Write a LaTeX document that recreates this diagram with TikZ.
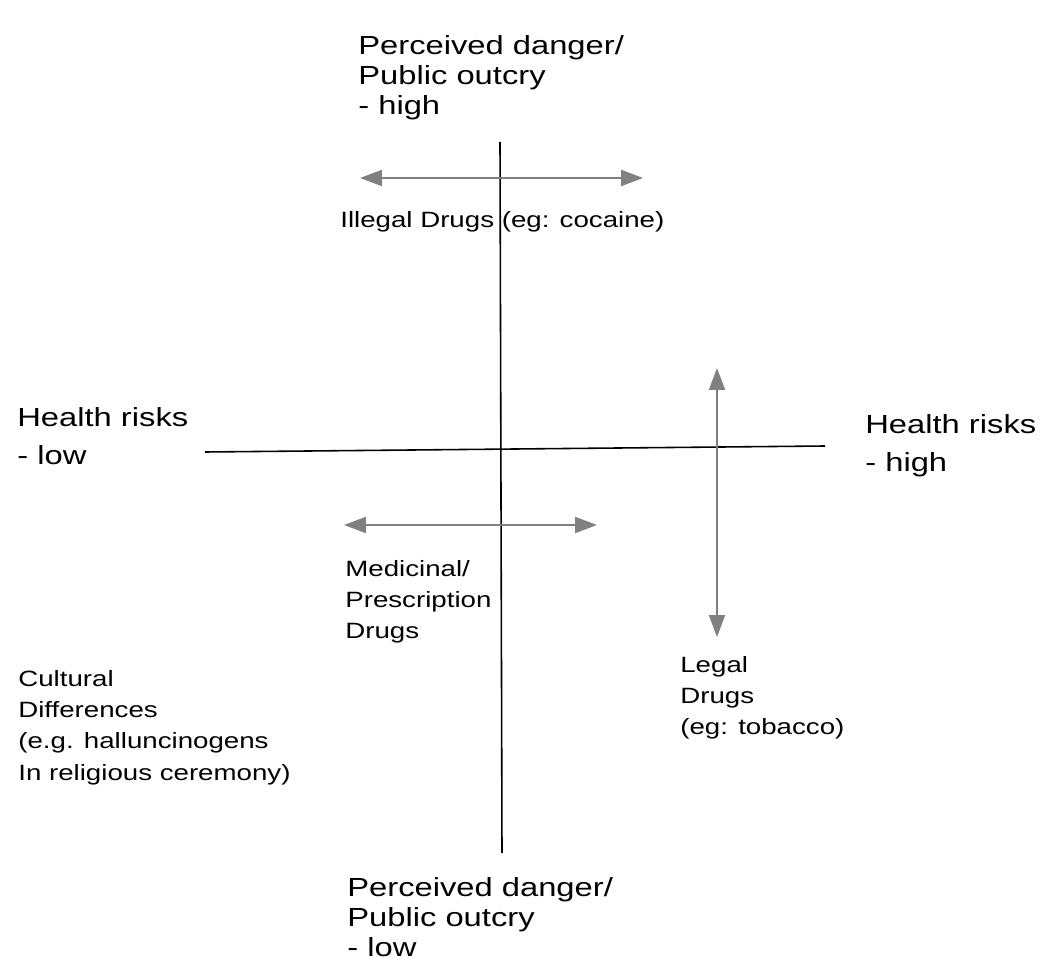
\documentclass[tikz,border=0pt]{standalone}
\usepackage{fontspec}
\setmainfont{Liberation Sans}[FakeStretch=1.25]
\usetikzlibrary{arrows.meta}
\definecolor{arrowgray}{RGB}{128,128,128}
\tikzset{
  axisLine/.style={draw=black, line width=0.9pt},
  rangeArrow/.style={draw=arrowgray, line width=1.2pt,
    {Triangle[length=0.44cm,width=0.32cm,fill=arrowgray]}-{Triangle[length=0.44cm,width=0.32cm,fill=arrowgray]}},
  axisLabel/.style={anchor=north west, inner sep=0pt, align=left,
    font=\fontsize{14.9}{17}\selectfont},
  sideLabel/.style={anchor=north west, inner sep=0pt, align=left,
    font=\fontsize{14.9}{21.8}\selectfont},
  drugLabel/.style={anchor=north west, inner sep=0pt, align=left,
    font=\fontsize{12.6}{17.8}\selectfont}
}
\begin{document}
\begin{tikzpicture}[x=0.02cm,y=-0.02cm]
    \useasboundingbox (0,0) rectangle (1042,976);

    % axes
    \coordinate (vTop) at (500,142);
    \coordinate (vBot) at (502,853);
    \coordinate (hLeft) at (205,452);
    \coordinate (hRight) at (825,446);
    \draw[axisLine] (vTop) -- (vBot);
    \draw[axisLine] (hLeft) -- (hRight);

    % ranges
    \coordinate (illL) at (360,178);
    \coordinate (illR) at (643,178);
    \coordinate (medL) at (344,525);
    \coordinate (medR) at (597,525);
    \coordinate (legT) at (717,368);
    \coordinate (legB) at (717,637);
    \draw[rangeArrow] (illL) -- (illR);
    \draw[rangeArrow] (medL) -- (medR);
    \draw[rangeArrow] (legT) -- (legB);

    \node[axisLabel] (dangerHigh) at (358,35) {Perceived danger/\\Public outcry\\- high};
    \node[axisLabel] (dangerLow) at (347,877) {Perceived danger/\\Public outcry\\- low};
    \node[sideLabel] (healthLow) at (17,407) {Health risks\\- low};
    \node[sideLabel] (healthHigh) at (865,414) {Health risks\\- high};

    \node[drugLabel] (illegal) at (340,211) {Illegal Drugs (eg: cocaine)};
    \node[drugLabel] (medicinal) at (345,560) {Medicinal/\\Prescription\\Drugs};
    \node[drugLabel] (legal) at (680,656) {Legal\\Drugs\\(eg: tobacco)};
    \node[drugLabel] (cultural) at (18,670) {Cultural\\Differences\\(e.g. halluncinogens\\In religious ceremony)};
\end{tikzpicture}
\end{document}
